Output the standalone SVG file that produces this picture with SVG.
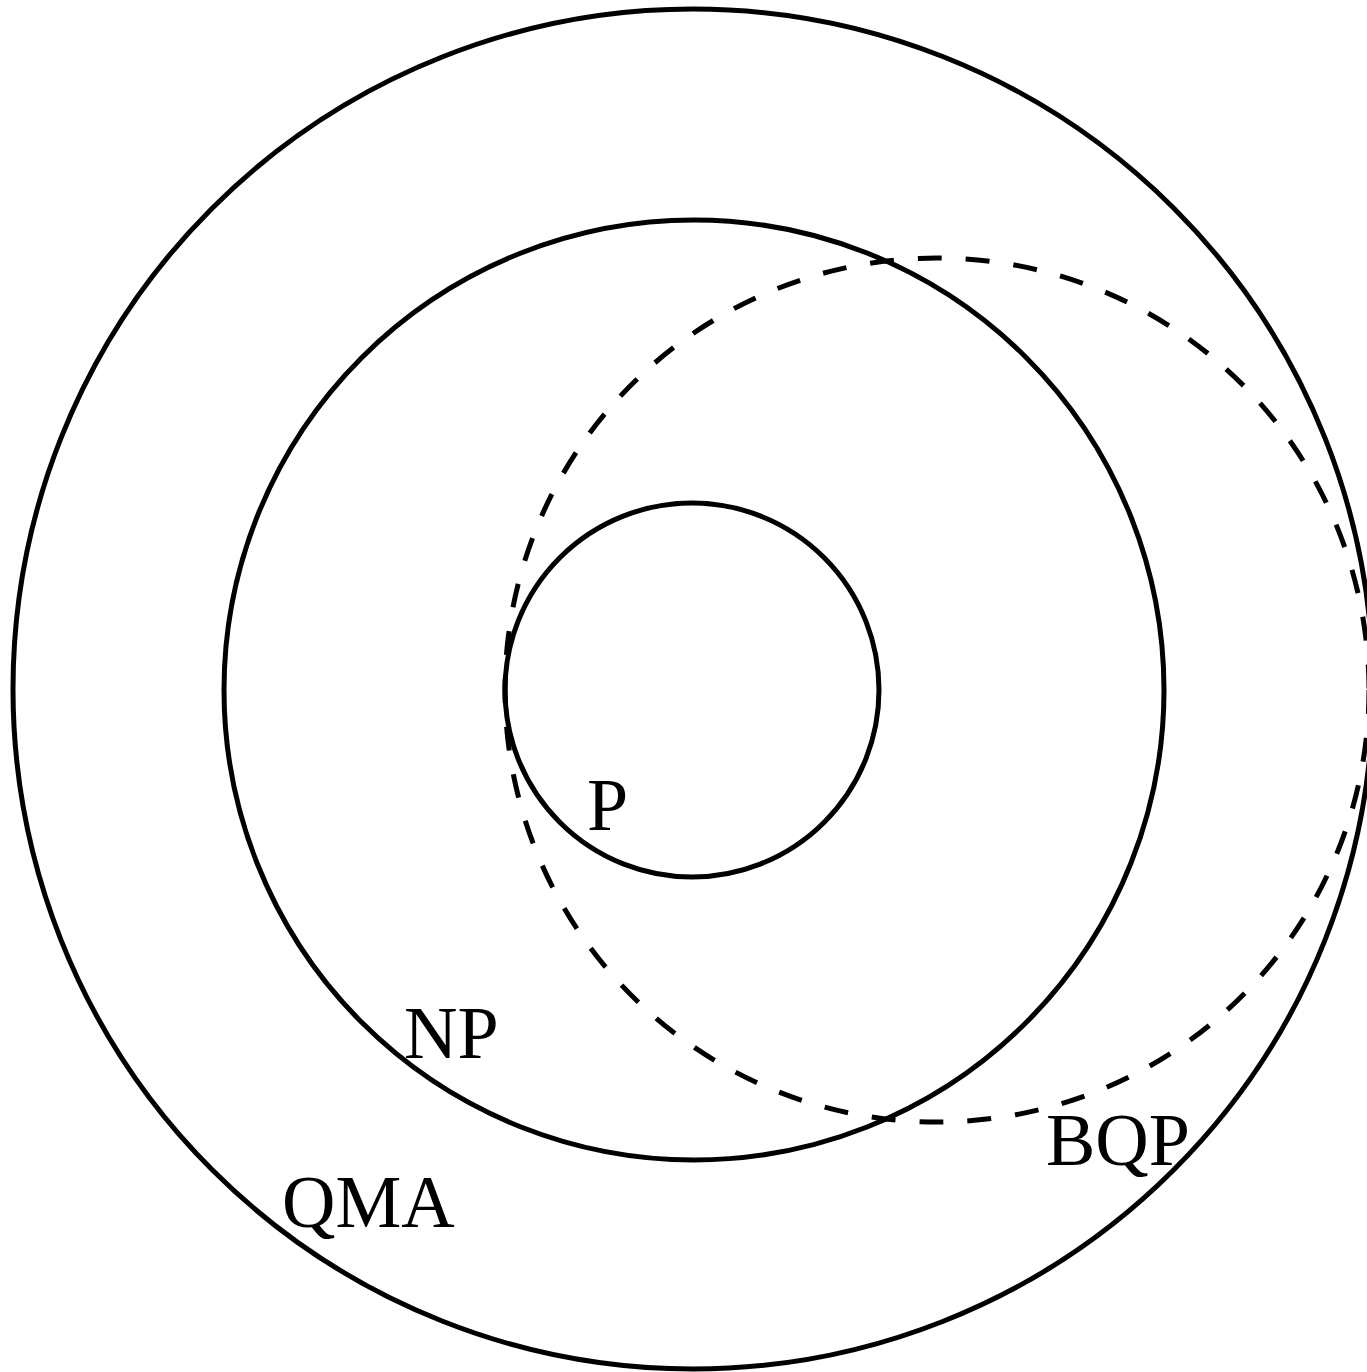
<svg xmlns="http://www.w3.org/2000/svg" width="1367" height="1372" viewBox="0 0 1367 1372">
<style>
.c{fill:none;stroke:#000;stroke-width:5}
.d{fill:none;stroke:#000;stroke-width:5;stroke-dasharray:24 24}
.t{font-family:"Liberation Serif",serif;font-size:74px;fill:#000}
</style>
<rect width="1367" height="1372" fill="#fff"/>
<g id="QMA"><circle class="c" cx="693" cy="689" r="680"/><text class="t" x="282" y="1227">QMA</text></g>
<g id="NP"><circle class="c" cx="694" cy="690" r="470"/><text class="t" x="404" y="1058">NP</text></g>
<g id="P"><circle class="c" cx="692" cy="690" r="187"/><text class="t" x="587" y="830">P</text></g>
<g id="BQP"><circle class="d" cx="937" cy="690" r="432"/><text class="t" x="1046" y="1165">BQP</text></g>
<g id="connectors"></g>
</svg>
